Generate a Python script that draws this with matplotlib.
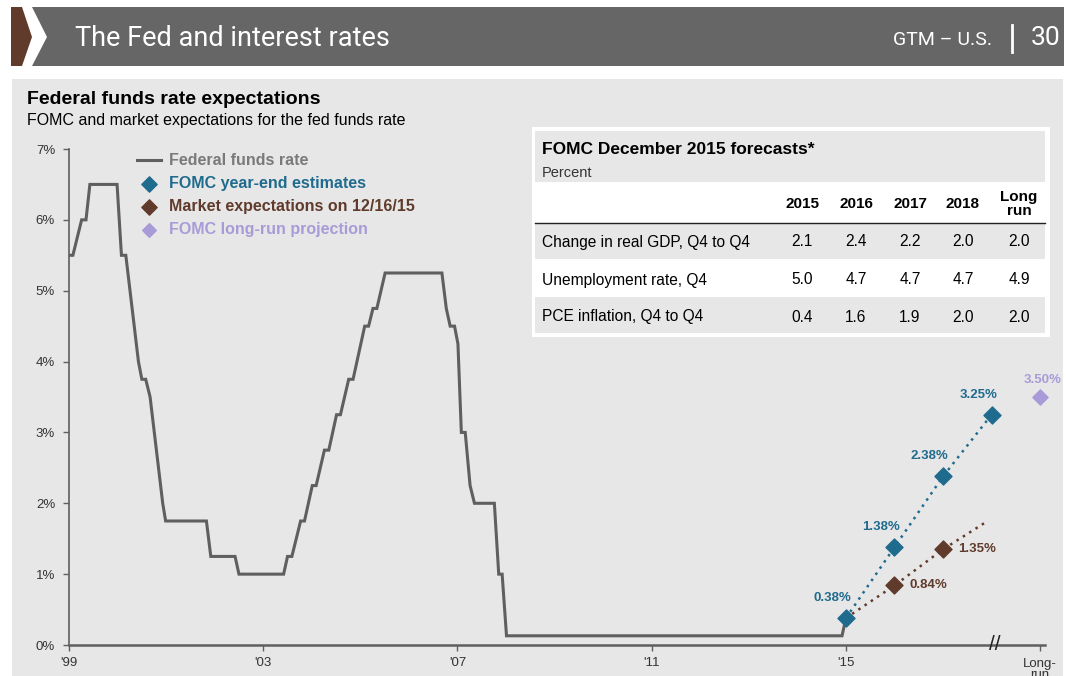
import matplotlib
matplotlib.use('Agg')
import matplotlib.pyplot as plt
from matplotlib.patches import Rectangle, Polygon

plt.rcParams['font.family'] = ['Liberation Sans', 'DejaVu Sans']

# Federal funds rate (decimal year, percent)
ffr_x = [1999.00, 1999.08, 1999.26, 1999.35, 1999.43, 1999.99, 2000.08, 2000.17,
         2000.43, 2000.50, 2000.58, 2000.67, 2000.93, 2000.99, 2001.83, 2001.92,
         2002.42, 2002.50, 2003.42, 2003.50, 2003.59, 2003.77, 2003.85, 2004.01,
         2004.09, 2004.26, 2004.35, 2004.51, 2004.59, 2004.76, 2004.85, 2005.09,
         2005.17, 2005.26, 2005.34, 2005.51, 2006.68, 2006.77, 2006.85, 2006.94,
         2007.01, 2007.08, 2007.16, 2007.26, 2007.35, 2007.76, 2007.85, 2007.92,
         2008.01, 2014.92, 2015.00]
ffr_y = [5.50, 5.50, 6.00, 6.00, 6.50, 6.50, 5.50, 5.50,
         4.00, 3.75, 3.75, 3.50, 2.00, 1.75, 1.75, 1.25,
         1.25, 1.00, 1.00, 1.25, 1.25, 1.75, 1.75, 2.25,
         2.25, 2.75, 2.75, 3.25, 3.25, 3.75, 3.75, 4.50,
         4.50, 4.75, 4.75, 5.25, 5.25, 4.75, 4.50, 4.50,
         4.25, 3.00, 3.00, 2.25, 2.00, 2.00, 1.00, 1.00,
         0.13, 0.13, 0.38]

fomc_x = [2015, 2016, 2017, 2018]
fomc_y = [0.38, 1.38, 2.38, 3.25]
mkt_x = [2015, 2016, 2017, 2017.85]
mkt_y = [0.38, 0.84, 1.35, 1.72]
lr_x = [2019]
lr_y = [3.50]

xtick_pos = [1999, 2003, 2007, 2011, 2015, 2019]
xtick_lbl = ["'99", "'03", "'07", "'11", "'15", "Long-\nrun"]

# FOMC December 2015 forecasts table
tbl_cols = ['2015', '2016', '2017', '2018', 'Long\nrun']
tbl_rows = ['Change in real GDP, Q4 to Q4', 'Unemployment rate, Q4', 'PCE inflation, Q4 to Q4']
gdp = [2.1, 2.4, 2.2, 2.0, 2.0]
unemp = [5.0, 4.7, 4.7, 4.7, 4.9]
pce = [0.4, 1.6, 1.9, 2.0, 2.0]

c_line = '#5f5f5f'
c_blue = '#1f6b8e'
c_brown = '#603b2c'
c_lav = '#a99bd8'
c_panel = '#e7e7e7'

fig = plt.figure(figsize=(10.66, 6.76), dpi=100)
fig.patch.set_facecolor('white')

# background layer in pixel coordinates
bg = fig.add_axes([0, 0, 1, 1])
bg.set_xlim(0, 1066)
bg.set_ylim(676, 0)
bg.axis('off')

bg.add_patch(Polygon([(11, 7), (22, 7), (32, 37), (22, 66), (11, 66)], closed=True,
                     facecolor='#603b2c', edgecolor='none'))
bg.add_patch(Polygon([(32, 7), (1064, 7), (1064, 66), (32, 66), (47, 37)], closed=True,
                     facecolor='#666666', edgecolor='none'))
bg.add_patch(Rectangle((12, 79), 1051, 597, facecolor=c_panel, edgecolor='none'))

hdr = ['Roboto', 'DejaVu Sans']
bg.text(75, 38, 'The Fed and interest rates', color='white', fontsize=19.5,
        family=hdr, va='center', ha='left')
bg.text(992, 40, 'GTM \u2013 U.S.', color='white', fontsize=14, family=hdr,
        va='center', ha='right')
bg.plot([1012, 1012], [25, 52], color='white', lw=2)
bg.text(1061, 38, '30', color='white', fontsize=19, family=hdr, va='center', ha='right')

bg.text(27, 100, 'Federal funds rate expectations', fontsize=14, fontweight='bold',
        va='center', ha='left', color='black')
bg.text(27, 120, 'FOMC and market expectations for the fed funds rate', fontsize=11.5,
        va='center', ha='left', color='black')

# chart
ax = fig.add_axes([69 / 1066, 1 - 645 / 676, (1045 - 69) / 1066, (645 - 149) / 676])
ax.set_facecolor(c_panel)
ax.plot(ffr_x, ffr_y, color=c_line, lw=2.2, solid_joinstyle='miter', zorder=3,
        label='Federal funds rate')
ax.plot(mkt_x, mkt_y, color=c_brown, lw=1.8, ls=(0, (1, 2)), zorder=2)
ax.plot(fomc_x, fomc_y, color=c_blue, lw=1.8, ls=(0, (1, 2)), zorder=2)
ax.scatter(fomc_x, fomc_y, marker='D', s=75, color=c_blue, zorder=4,
           label='FOMC year-end estimates')
ax.scatter(mkt_x[1:3], mkt_y[1:3], marker='D', s=75, color=c_brown, zorder=4,
           label='Market expectations on 12/16/15')
ax.scatter(lr_x, lr_y, marker='D', s=60, color=c_lav, zorder=4, clip_on=False,
           label='FOMC long-run projection')

for x, y in zip(fomc_x, fomc_y):
    ax.annotate(f'{y:.2f}%', (x, y), xytext=(4, 10), textcoords='offset points',
                ha='right', va='bottom', color=c_blue, fontsize=9.5, fontweight='bold')
for x, y in zip(mkt_x[1:3], mkt_y[1:3]):
    ax.annotate(f'{y:.2f}%', (x, y), xytext=(11, 0), textcoords='offset points',
                ha='left', va='center', color=c_brown, fontsize=9.5, fontweight='bold')
for x, y in zip(lr_x, lr_y):
    ax.annotate(f'{y:.2f}%', (x, y), xytext=(2, 8), textcoords='offset points',
                ha='center', va='bottom', color=c_lav, fontsize=9.5, fontweight='bold',
                annotation_clip=False)

ax.set_xlim(1999, 2019.1)
ax.set_ylim(0, 7)
ax.set_yticks(range(0, 8))
ax.set_yticklabels([f'{v}%' for v in range(0, 8)])
ax.set_xticks(xtick_pos)
ax.set_xticklabels(xtick_lbl, linespacing=0.95)
ax.tick_params(axis='both', direction='out', length=4, width=1, color=c_line,
               labelsize=9.5, labelcolor='#333333')
ax.tick_params(axis='x', pad=5)
ax.tick_params(axis='y', pad=6)
for s in ['top', 'right']:
    ax.spines[s].set_visible(False)
ax.spines['left'].set_color(c_line)
ax.spines['left'].set_linewidth(1.2)
ax.spines['bottom'].set_color(c_line)
ax.spines['bottom'].set_linewidth(1.8)

ax.text(2018.06, 0, '//', ha='center', va='center', fontsize=15, color='#222222',
        clip_on=False, zorder=5)

leg = ax.legend(loc='upper left', bbox_to_anchor=(0.055, 1.02), frameon=False,
                handlelength=1.5, handletextpad=0.5, labelspacing=0.5,
                prop={'size': 11.5, 'weight': 'bold'}, markerscale=0.9)
for txt, col in zip(leg.get_texts(), ['#7a7a7a', c_blue, c_brown, c_lav]):
    txt.set_color(col)

# forecasts table on an overlay layer in pixel coordinates
tb = fig.add_axes([0, 0, 1, 1], zorder=10)
tb.set_xlim(0, 1066)
tb.set_ylim(676, 0)
tb.axis('off')
tb.patch.set_visible(False)
tb.add_patch(Rectangle((532, 127), 518, 210, facecolor='white', edgecolor='none'))
tb.add_patch(Rectangle((535, 131), 510, 51, facecolor=c_panel, edgecolor='none'))
tb.add_patch(Rectangle((535, 224), 510, 35, facecolor=c_panel, edgecolor='none'))
tb.add_patch(Rectangle((535, 297), 510, 36, facecolor=c_panel, edgecolor='none'))
tb.plot([535, 1045], [223, 223], color='#222222', lw=1)
tb.text(542, 150, 'FOMC December 2015 forecasts*', fontsize=12.5, fontweight='bold',
        va='center', ha='left')
tb.text(542, 173, 'Percent', fontsize=10.5, va='center', ha='left', color='#333333')
col_x = [802, 856, 910, 963, 1019]
for cx, lbl in zip(col_x, tbl_cols):
    tb.text(cx, 204, lbl, fontsize=11, fontweight='bold', ha='center', va='center',
            linespacing=1.05)
row_y = [242, 280, 317]
for ry, name, vals in zip(row_y, tbl_rows, [gdp, unemp, pce]):
    tb.text(542, ry, name, fontsize=11.2, ha='left', va='center')
    for cx, v in zip(col_x, vals):
        tb.text(cx, ry, f'{v:.1f}', fontsize=11.2, ha='center', va='center')

fig.savefig('out.png', dpi=100, facecolor='white')
